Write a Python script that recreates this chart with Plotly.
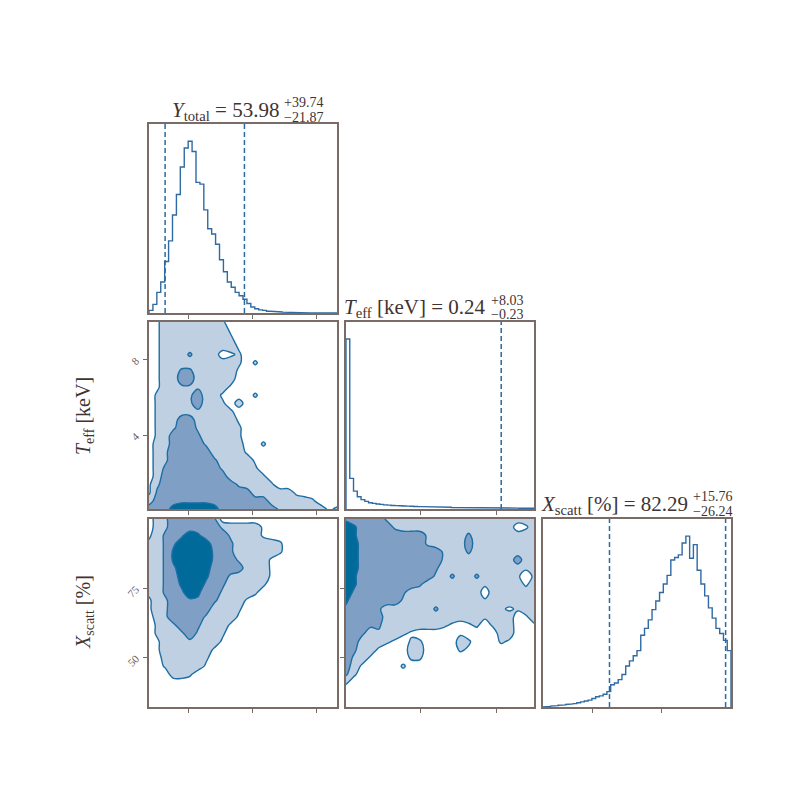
import plotly.graph_objects as go

# ---------------- data ----------------
ytot_range = [19.6, 165.6]
teff_range = [0.08, 10.0]
xsc_range = [32.0, 100.0]

ytot_ticks = [50, 100, 150]
teff_ticks = [4, 8]
xsc_ticks = [50, 75]

# 1D marginal histograms (relative counts)
ytot_counts = [15, 50, 120, 180, 300, 420, 570, 690, 850, 960,
               1000, 940, 760, 750, 600, 490, 460, 400, 310, 240,
               180, 150, 120, 100, 80, 55, 35, 25, 18, 15,
               10, 10, 8, 6, 5, 4, 3, 2, 2, 1,
               1, 0, 0, 0, 0, 0, 0, 0]
teff_counts = [1000, 180, 105, 72, 55, 45, 37, 33, 29, 27,
               24, 23, 21, 20, 19, 18, 17, 16, 15, 14,
               14, 13, 12, 12, 11, 11, 10, 10, 9, 9,
               9, 8, 8, 8, 7, 7, 7, 6, 6, 6,
               6, 5, 5, 5, 5, 5, 4, 4, 4, 4]
xsc_counts = [0, 3, 5, 8, 10, 12, 15, 18, 20, 25,
              30, 35, 40, 50, 60, 65, 75, 90, 130, 140,
              160, 190, 240, 270, 300, 330, 420, 460, 510, 570,
              620, 670, 720, 770, 860, 875, 890, 960, 1000, 870,
              950, 800, 720, 650, 580, 520, 460, 430, 390, 330]

# 16% / 84% quantiles
ytot_q = [32.11, 93.72]
teff_q = [0.01, 8.27]
xsc_q = [56.05, 98.05]

# 2D density levels (0 outside, 3 light, 6 medium, 9 dark), rows top -> bottom
teff_vs_ytot = [
    "013333333200000000000000",
    "013333333310000000000000",
    "013333333320000000000000",
    "013333333331000000000000",
    "013335333012000000000000",
    "013333332332020000000000",
    "013355333331000000000000",
    "013366333330000000000000",
    "013344433310000000000000",
    "023334633100020000000000",
    "023334633203000000000000",
    "023333433320000000000000",
    "023366333331000000000000",
    "023466433332000000000000",
    "023666533332000000000000",
    "033666643333002000000000",
    "034666663333100000000000",
    "034666665333310000000000",
    "035666666433320000000000",
    "036666666633332000000000",
    "146666666664333200000000",
    "156666666666633333100000",
    "366677776666666333332000",
    "666999999666666643333312",
]
xsc_vs_ytot = [
    "034666665000000000000000",
    "034666666433331000000000",
    "135679866643331000000000",
    "235799996653333320000000",
    "335899997653333320000000",
    "335899997664333100000000",
    "335799996666333100000000",
    "335699986643333100000000",
    "335689976533332000000000",
    "235679866433320000000000",
    "134667765333100000000000",
    "134666663332000000000000",
    "034666643331000000000000",
    "023466533310000000000000",
    "023346433200000000000000",
    "013334333100000000000000",
    "013333331000000000000000",
    "003333320000000000000000",
    "002333310000000000000000",
    "000332000000000000000000",
    "000000000000000000000000",
    "000000000000000000000000",
    "000000000000000000000000",
    "000000000000000000000000",
]
xsc_vs_teff = [
    "766664333333333333333333",
    "986666433333333333333013",
    "986666666643333533333333",
    "996666666643333633333333",
    "996666666666433533333333",
    "996666666666433333333633",
    "996666666665333333333323",
    "986666666664353353333202",
    "986666666533333332333313",
    "976666653333333330333333",
    "866666643333333332333333",
    "766653333335333333321233",
    "666654333333333332333013",
    "666553333333210120233001",
    "665343321000001000033000",
    "663332102200003200021000",
    "653310003300002100000000",
    "643100002200000000000000",
    "631000020000000000000000",
    "520000000000000000000000",
    "200000000000000000000000",
    "000000000000000000000000",
    "000000000000000000000000",
    "000000000000000000000000",
]

# ---------------- styling ----------------
FRAME = "#7b6b66"
TEXT = "#3f3431"
TICKTXT = "#6b5c58"
HIST = "#2f6aa3"
QLINE = "#2a6aa0"
CLINE = "#1c6ea4"
LIGHT = "#c0d0e3"
MED = "#7f9fc4"
DARK = "#006a9b"
SERIF = "Liberation Serif, DejaVu Serif, serif"

W = 784  # page body has an 8px margin
OFF = 8


def fx(px):
    return (px - OFF) / W


def fy(py):
    return 1.0 - (py - OFF) / W


COL = [(149, 337), (346, 534), (543, 731)]
ROW = [(124, 313), (322, 509), (519, 707)]


def xdom(c):
    return [fx(COL[c][0]), fx(COL[c][1])]


def ydom(r):
    return [fy(ROW[r][1]), fy(ROW[r][0])]


def step(counts, rng):
    n = len(counts)
    w = (rng[1] - rng[0]) / n
    edges = [rng[0] + i * w for i in range(n + 1)]
    xs, ys = [edges[0]], [0]
    for i, c in enumerate(counts):
        xs += [edges[i], edges[i + 1]]
        ys += [c, c]
    xs.append(edges[-1])
    ys.append(0)
    return xs, ys


def grid(rows, xr, yr):
    rows = [(r + "0" * 24)[:24] for r in rows]
    n = len(rows[0])
    m = len(rows)
    gx = [xr[0] + i * (xr[1] - xr[0]) / (n - 1) for i in range(n)]
    gy = [yr[0] + j * (yr[1] - yr[0]) / (m - 1) for j in range(m)]
    z = [[int(ch) for ch in r] for r in reversed(rows)]
    return gx, gy, z


cscale = [[0, "#ffffff"], [0.1667, "#ffffff"], [0.1667, LIGHT], [0.5, LIGHT],
          [0.5, MED], [0.8333, MED], [0.8333, DARK], [1, DARK]]

fig = go.Figure()

# histograms
for counts, rng, axn in [(ytot_counts, ytot_range, ("x", "y")),
                         (teff_counts, teff_range, ("x3", "y3")),
                         (xsc_counts, xsc_range, ("x6", "y6"))]:
    xs, ys = step(counts, rng)
    fig.add_trace(go.Scatter(x=xs, y=ys, mode="lines", xaxis=axn[0], yaxis=axn[1],
                             line=dict(color=HIST, width=1.4), hoverinfo="skip",
                             showlegend=False))

# contours
for rows, xr, yr, axn in [(teff_vs_ytot, ytot_range, teff_range, ("x2", "y2")),
                          (xsc_vs_ytot, ytot_range, xsc_range, ("x4", "y4")),
                          (xsc_vs_teff, teff_range, xsc_range, ("x5", "y5"))]:
    gx, gy, z = grid(rows, xr, yr)
    fig.add_trace(go.Contour(x=gx, y=gy, z=z, xaxis=axn[0], yaxis=axn[1],
                             zmin=0, zmax=9, autocontour=False,
                             contours=dict(start=1.5, end=7.5, size=3,
                                           coloring="fill", showlines=True),
                             line=dict(color=CLINE, width=1.4, smoothing=1.0),
                             colorscale=cscale, showscale=False,
                             hoverinfo="skip"))

shapes = []
for q, rng, xa, ya in [(ytot_q, ytot_range, "x", "y"), (teff_q, teff_range, "x3", "y3"),
                       (xsc_q, xsc_range, "x6", "y6")]:
    for v in q:
        if rng[0] < v < rng[1]:
            shapes.append(dict(type="line", xref=xa, yref=ya + " domain",
                               x0=v, x1=v, y0=0, y1=1,
                               line=dict(color=QLINE, width=1.5, dash="5px,3px")))

base = dict(showline=True, mirror=True, linecolor=FRAME, linewidth=1.5,
            showgrid=False, zeroline=False, ticks="outside", ticklen=4,
            tickwidth=1, tickcolor=FRAME, showticklabels=False, layer="above traces")


def ax(**kw):
    d = dict(base)
    d.update(kw)
    return d


tickfont = dict(family=SERIF, size=11, color=TICKTXT)

layout = dict(
    width=W, height=W, autosize=False,
    margin=dict(l=0, r=0, t=0, b=0),
    paper_bgcolor="white", plot_bgcolor="white", showlegend=False,
    shapes=shapes,
    xaxis=ax(domain=xdom(0), anchor="y", range=ytot_range, tickvals=ytot_ticks),
    yaxis=ax(domain=ydom(0), anchor="x", range=[0, 1.1 * max(ytot_counts)], ticks=""),
    xaxis2=ax(domain=xdom(0), anchor="y2", range=ytot_range, tickvals=ytot_ticks),
    yaxis2=ax(domain=ydom(1), anchor="x2", range=teff_range, tickvals=teff_ticks,
              showticklabels=True, tickangle=-45, ticklabelstandoff=5, tickfont=tickfont),
    xaxis3=ax(domain=xdom(1), anchor="y3", range=teff_range, tickvals=teff_ticks),
    yaxis3=ax(domain=ydom(1), anchor="x3", range=[0, 1.1 * max(teff_counts)], ticks=""),
    xaxis4=ax(domain=xdom(0), anchor="y4", range=ytot_range, tickvals=ytot_ticks),
    yaxis4=ax(domain=ydom(2), anchor="x4", range=xsc_range, tickvals=xsc_ticks,
              showticklabels=True, tickangle=-45, ticklabelstandoff=5, tickfont=tickfont),
    xaxis5=ax(domain=xdom(1), anchor="y5", range=teff_range, tickvals=teff_ticks),
    yaxis5=ax(domain=ydom(2), anchor="x5", range=xsc_range, tickvals=xsc_ticks),
    xaxis6=ax(domain=xdom(2), anchor="y6", range=xsc_range, tickvals=xsc_ticks),
    yaxis6=ax(domain=ydom(2), anchor="x6", range=[0, 1.1 * max(xsc_counts)], ticks=""),
)
fig.update_layout(**layout)

ann = []
tfont = dict(family=SERIF, size=21, color=TEXT)
sfont = dict(family=SERIF, size=14, color=TEXT)
lfont = dict(family=SERIF, size=20, color=TEXT)

titles = [
    ("<i>Y</i><sub>total</sub>&nbsp;=&nbsp;53.98", "+39.74", "\u221221.87", 281, 111),
    ("<i>T</i><sub>eff</sub> [keV]&nbsp;=&nbsp;0.24", "+8.03", "\u22120.23", 488, 308),
    ("<i>X</i><sub>scatt</sub> [%]&nbsp;=&nbsp;82.29", "+15.76", "\u221226.24", 690, 505),
]
for main, sup, sub, xj, yc in titles:
    ann.append(dict(text=main, x=fx(xj), y=fy(yc), xref="paper", yref="paper",
                    xanchor="right", yanchor="middle", showarrow=False, font=tfont))
    ann.append(dict(text=sup, x=fx(xj + 1), y=fy(yc - 8), xref="paper", yref="paper",
                    xanchor="left", yanchor="middle", showarrow=False, font=sfont))
    ann.append(dict(text=sub, x=fx(xj + 1), y=fy(yc + 6), xref="paper", yref="paper",
                    xanchor="left", yanchor="middle", showarrow=False, font=sfont))

ann.append(dict(text="<i>T</i><sub>eff</sub> [keV]", x=fx(84), y=fy(416),
                xref="paper", yref="paper", textangle=-90, showarrow=False,
                xanchor="center", yanchor="middle", font=lfont))
ann.append(dict(text="<i>X</i><sub>scatt</sub> [%]", x=fx(84), y=fy(612),
                xref="paper", yref="paper", textangle=-90, showarrow=False,
                xanchor="center", yanchor="middle", font=lfont))
fig.update_layout(annotations=ann)

fig.write_html("out.html")
